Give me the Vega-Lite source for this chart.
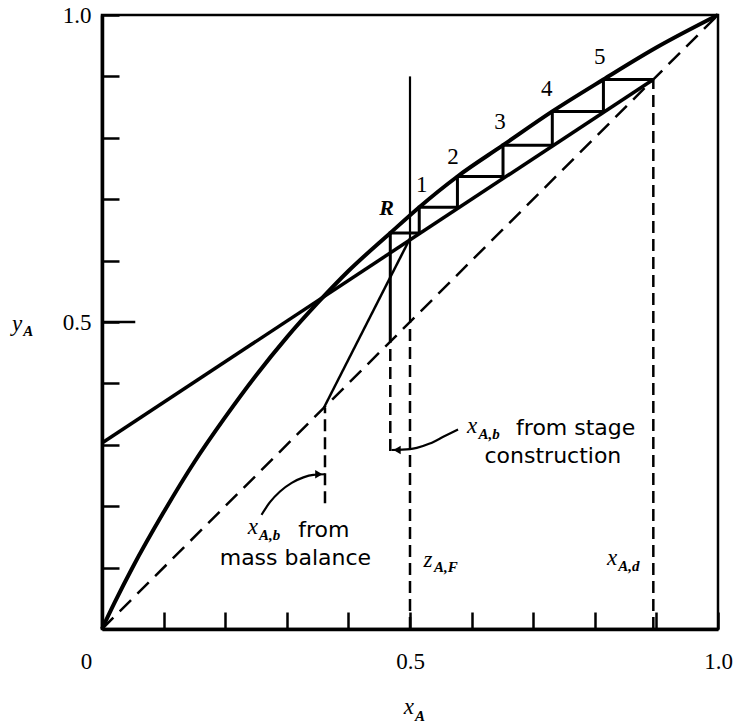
{
  "$schema": "https://vega.github.io/schema/vega-lite/v6.json",
  "width": 616,
  "height": 614,
  "autosize": "none",
  "padding": {"left": 102, "top": 15, "right": 21, "bottom": 99},
  "background": "white",
  "config": {
    "view": {"stroke": "black", "strokeWidth": 2.5},
    "text": {"color": "black"}
  },
  "datasets": {
    "diag": [{"x": 0, "y": 0}, {"x": 1, "y": 1}],
    "eq": [
      {"x": 0, "y": 0}, {"x": 0.02, "y": 0.042}, {"x": 0.05, "y": 0.101}, {"x": 0.1, "y": 0.19},
      {"x": 0.15, "y": 0.272}, {"x": 0.2, "y": 0.345}, {"x": 0.25, "y": 0.413}, {"x": 0.3, "y": 0.475},
      {"x": 0.35, "y": 0.531}, {"x": 0.4, "y": 0.583}, {"x": 0.468, "y": 0.645}, {"x": 0.515, "y": 0.687},
      {"x": 0.577, "y": 0.737}, {"x": 0.651, "y": 0.788}, {"x": 0.731, "y": 0.843}, {"x": 0.814, "y": 0.895},
      {"x": 0.9, "y": 0.947}, {"x": 1, "y": 1}
    ],
    "opline": [{"x": 0, "y": 0.303}, {"x": 0.895, "y": 0.895}],
    "strip": [{"x": 0.36, "y": 0.36}, {"x": 0.5, "y": 0.636}],
    "feed": [{"x": 0.5, "y": 0.5, "y2": 0.9}],
    "dashv": [
      {"x": 0.5, "y": 0, "y2": 0.5},
      {"x": 0.895, "y": 0, "y2": 0.895},
      {"x": 0.362, "y": 0.205, "y2": 0.36},
      {"x": 0.468, "y": 0.29, "y2": 0.468}
    ],
    "stairs": [
      {"i": 0, "x": 0.895, "y": 0.895}, {"i": 1, "x": 0.814, "y": 0.895}, {"i": 2, "x": 0.814, "y": 0.843},
      {"i": 3, "x": 0.731, "y": 0.843}, {"i": 4, "x": 0.731, "y": 0.788}, {"i": 5, "x": 0.651, "y": 0.788},
      {"i": 6, "x": 0.651, "y": 0.737}, {"i": 7, "x": 0.577, "y": 0.737}, {"i": 8, "x": 0.577, "y": 0.687},
      {"i": 9, "x": 0.515, "y": 0.687}, {"i": 10, "x": 0.515, "y": 0.645}, {"i": 11, "x": 0.468, "y": 0.645},
      {"i": 12, "x": 0.468, "y": 0.468}
    ],
    "arrows": [
      {"a": "stage", "i": 0, "x": 0.578, "y": 0.325}, {"a": "stage", "i": 1, "x": 0.554, "y": 0.313},
      {"a": "stage", "i": 2, "x": 0.532, "y": 0.302}, {"a": "stage", "i": 3, "x": 0.511, "y": 0.295},
      {"a": "stage", "i": 4, "x": 0.5, "y": 0.293}, {"a": "stage", "i": 5, "x": 0.47, "y": 0.2915},
      {"a": "mass", "i": 0, "x": 0.259, "y": 0.186}, {"a": "mass", "i": 1, "x": 0.273, "y": 0.207},
      {"a": "mass", "i": 2, "x": 0.289, "y": 0.224}, {"a": "mass", "i": 3, "x": 0.308, "y": 0.238},
      {"a": "mass", "i": 4, "x": 0.327, "y": 0.247}, {"a": "mass", "i": 5, "x": 0.343, "y": 0.251},
      {"a": "mass", "i": 6, "x": 0.362, "y": 0.252}
    ],
    "heads": [
      {"dir": "left", "x": 0.479, "y": 0.2915},
      {"dir": "right", "x": 0.352, "y": 0.252}
    ],
    "longtick": [{"x": 0, "x2": 0.054, "y": 0.5}],
    "digits": [
      {"x": 0.519, "y": 0.723, "t": "1"}, {"x": 0.57, "y": 0.769, "t": "2"}, {"x": 0.646, "y": 0.826, "t": "3"},
      {"x": 0.722, "y": 0.879, "t": "4"}, {"x": 0.808, "y": 0.932, "t": "5"}
    ],
    "rlabel": [{"x": 0.462, "y": 0.685, "t": "R"}],
    "vars": [
      {"x": 0.601, "y": 0.331, "t": "x"}, {"x": 0.245, "y": 0.166, "t": "x"}, {"x": 0.529, "y": 0.112, "t": "z"},
      {"x": 0.828, "y": 0.116, "t": "x"}, {"x": 0.498, "y": -0.127, "t": "x"}, {"x": -0.138, "y": 0.497, "t": "y"}
    ],
    "subs": [
      {"x": 0.611, "y": 0.318, "t": "A,b"}, {"x": 0.255, "y": 0.153, "t": "A,b"}, {"x": 0.539, "y": 0.101, "t": "A,F"},
      {"x": 0.838, "y": 0.103, "t": "A,d"}, {"x": 0.508, "y": -0.142, "t": "A"}, {"x": -0.128, "y": 0.485, "t": "A"}
    ],
    "words": [
      {"x": 0.769, "y": 0.327, "t": "from stage"}, {"x": 0.732, "y": 0.282, "t": "construction"},
      {"x": 0.36, "y": 0.161, "t": "from"}, {"x": 0.314, "y": 0.116, "t": "mass balance"}
    ]
  },
  "encoding": {
    "x": {
      "field": "x", "type": "quantitative",
      "scale": {"domain": [0, 1], "nice": false, "zero": false},
      "axis": {
        "values": [0, 0.1, 0.2, 0.3, 0.4, 0.5, 0.6, 0.7, 0.8, 0.9, 1],
        "labelExpr": "datum.value == 0 ? '0' : datum.value == 0.5 ? '0.5' : datum.value == 1 ? '1.0' : ''",
        "title": null, "grid": false,
        "tickSize": -17, "tickWidth": 2.5, "tickColor": "black",
        "domainWidth": 3.5, "domainColor": "black",
        "labelPadding": 38, "labelFont": "Liberation Serif", "labelFontSize": 23, "labelColor": "black",
        "labelFlush": false, "labelOverlap": false,
        "labelOffset": {"condition": {"test": "datum.value == 0", "value": -16}, "value": 0}
      }
    },
    "y": {
      "field": "y", "type": "quantitative",
      "scale": {"domain": [0, 1], "nice": false, "zero": false},
      "axis": {
        "values": [0, 0.1, 0.2, 0.3, 0.4, 0.5, 0.6, 0.7, 0.8, 0.9, 1],
        "labelExpr": "datum.value == 0.5 ? '0.5' : datum.value == 1 ? '1.0' : ''",
        "title": null, "grid": false,
        "tickSize": -17, "tickWidth": 2.5, "tickColor": "black",
        "domainWidth": 3.5, "domainColor": "black",
        "labelPadding": 28, "labelFont": "Liberation Serif", "labelFontSize": 23, "labelColor": "black",
        "labelFlush": false, "labelOverlap": false
      }
    }
  },
  "layer": [
    {"data": {"name": "diag"}, "mark": {"type": "line", "color": "black", "strokeWidth": 2.5, "strokeDash": [16, 9]}, "encoding": {}},
    {"data": {"name": "eq"}, "mark": {"type": "line", "color": "black", "strokeWidth": 4, "interpolate": "monotone"}, "encoding": {}},
    {"data": {"name": "opline"}, "mark": {"type": "line", "color": "black", "strokeWidth": 3.5}, "encoding": {}},
    {"data": {"name": "strip"}, "mark": {"type": "line", "color": "black", "strokeWidth": 2.5}, "encoding": {}},
    {"data": {"name": "feed"}, "mark": {"type": "rule", "color": "black", "strokeWidth": 2.2}, "encoding": {"y2": {"field": "y2"}}},
    {"data": {"name": "dashv"}, "mark": {"type": "rule", "color": "black", "strokeWidth": 2.5, "strokeDash": [12, 6]}, "encoding": {"y2": {"field": "y2"}}},
    {"data": {"name": "stairs"}, "mark": {"type": "line", "color": "black", "strokeWidth": 3}, "encoding": {"order": {"field": "i", "type": "quantitative"}}},
    {"data": {"name": "arrows"}, "mark": {"type": "line", "color": "black", "strokeWidth": 2.2, "interpolate": "monotone"}, "encoding": {"detail": {"field": "a"}, "order": {"field": "i", "type": "quantitative"}}},
    {"data": {"name": "heads"}, "mark": {"type": "point", "filled": true, "color": "black", "size": 70, "opacity": 1}, "encoding": {"shape": {"field": "dir", "type": "nominal", "scale": {"domain": ["left", "right"], "range": ["triangle-left", "triangle-right"]}, "legend": null}}},
    {"data": {"name": "longtick"}, "mark": {"type": "rule", "color": "black", "strokeWidth": 2.5}, "encoding": {"x2": {"field": "x2"}}},
    {"data": {"name": "digits"}, "mark": {"type": "text", "font": "Liberation Serif", "fontSize": 23, "baseline": "middle", "align": "center"}, "encoding": {"text": {"field": "t"}}},
    {"data": {"name": "rlabel"}, "mark": {"type": "text", "font": "Liberation Serif", "fontSize": 22, "fontWeight": "bold", "fontStyle": "italic", "baseline": "middle", "align": "center"}, "encoding": {"text": {"field": "t"}}},
    {"data": {"name": "vars"}, "mark": {"type": "text", "font": "Liberation Serif", "fontSize": 23, "fontStyle": "italic", "baseline": "middle", "align": "center"}, "encoding": {"text": {"field": "t"}}},
    {"data": {"name": "subs"}, "mark": {"type": "text", "font": "Liberation Serif", "fontSize": 15, "fontStyle": "italic", "fontWeight": "bold", "baseline": "middle", "align": "left"}, "encoding": {"text": {"field": "t"}}},
    {"data": {"name": "words"}, "mark": {"type": "text", "font": "DejaVu Sans", "fontSize": 22, "baseline": "middle", "align": "center"}, "encoding": {"text": {"field": "t"}}}
  ]
}
